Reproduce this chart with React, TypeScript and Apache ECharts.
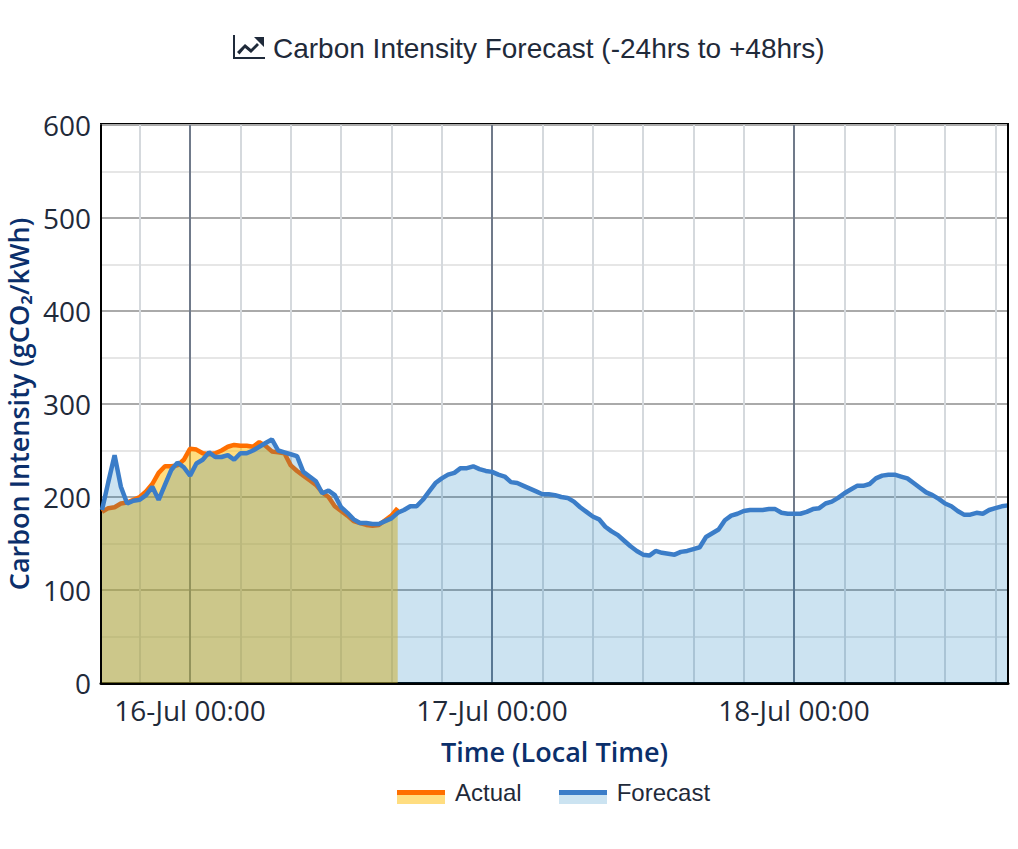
import React, { useEffect, useRef } from "react";
import * as echarts from "echarts";

const START_HOUR = -7;
const STEP_HOURS = 0.5;

const actualValues = [
  184, 188, 189, 193, 194, 197, 200, 206, 214, 226, 233, 233, 234, 240, 252, 251,
  247, 246, 247, 250, 254, 256, 255, 255, 254, 259, 255, 249, 248, 247, 234, 228,
  223, 218, 213, 205, 200, 190, 185, 180, 174, 172, 170, 169, 170, 175, 180, 188,
];

const forecastValues = [
  186, 216, 245, 211, 193, 196, 197, 202, 211, 197, 213, 229, 237, 232, 223, 236,
  240, 248, 243, 243, 245, 240, 247, 247, 250, 254, 258, 262, 250, 248, 246, 244,
  227, 222, 217, 204, 207, 202, 189, 183, 176, 172, 172, 171, 171, 174, 177, 183,
  186, 190, 190, 197, 206, 215, 220, 224, 226, 231, 231, 233, 230, 228, 227, 224,
  222, 216, 215, 212, 209, 206, 203, 203, 202, 200, 199, 195, 189, 184, 179, 176,
  168, 163, 159, 153, 147, 142, 138, 137, 142, 140, 139, 138, 141, 142, 144, 146,
  157, 161, 165, 175, 180, 182, 185, 186, 186, 186, 187, 187, 183, 182, 182, 182,
  184, 187, 188, 193, 195, 199, 204, 208, 212, 212, 214, 220, 223, 224, 224, 222,
  220, 215, 210, 205, 202, 198, 193, 190, 185, 181, 181, 183, 182, 186, 188, 190, 191,
];

const yTicks = { min: 0, max: 600, interval: 100 };
const gridHours = [-4, 0, 4, 8, 12, 16, 20, 24, 28, 32, 36, 40, 44, 48, 52, 56, 60, 64];
const dayHours = [0, 24, 48];
const dayLabels = ["16-Jul 00:00", "17-Jul 00:00", "18-Jul 00:00"];
const X_MIN = -7.08;
const X_MAX = 65;

const CHART_LINE_ICON =
  "M0 0H2V22H32V24H0ZM4 17L12 9L18 14L24 8L26 10L18 18L12 13L6.5 19.5ZM21 2H31V12Z";

const toPairs = (values: number[]) =>
  values.map((v, i) => [START_HOUR + i * STEP_HOURS, v]);

export default function App() {
  const ref = useRef<HTMLDivElement>(null);

  useEffect(() => {
    if (!ref.current) return;
    echarts.graphic.registerShape(
      "chartLineIcon",
      (echarts.graphic as any).extendPath(CHART_LINE_ICON, {})
    );
    const chart = echarts.init(ref.current, undefined, { renderer: "svg" });
    const labelFor = (v: number) => dayLabels[dayHours.indexOf(v)] ?? "";
    chart.setOption({
      animation: false,
      backgroundColor: "#ffffff",
      title: {
        text: "Carbon Intensity Forecast (-24hrs to +48hrs)",
        left: 268,
        top: 29,
        textStyle: {
          fontFamily: "Liberation Sans",
          fontSize: 28,
          fontWeight: "normal",
          color: "#1f2a3a",
        },
      },
      legend: {
        left: 392,
        top: 775,
        itemWidth: 48,
        itemHeight: 14,
        itemGap: 37,
        icon: "rect",
        selectedMode: false,
        data: [
          { name: "Actual", itemStyle: { color: "rgba(0,0,0,0)" } },
          { name: "Forecast", itemStyle: { color: "rgba(0,0,0,0)" } },
        ],
        textStyle: {
          fontFamily: "Liberation Sans",
          fontSize: 24,
          color: "#1f2a3a",
          padding: [0, 0, 10, 5],
        },
      },
      grid: {
        left: 101,
        right: 10,
        top: 125,
        bottom: 166,
        show: false,
        outerBoundsMode: "none",
      },
      xAxis: [
        {
          type: "value",
          min: X_MIN,
          max: X_MAX,
          name: "Time (Local Time)",
          nameLocation: "middle",
          nameGap: 55,
          nameTextStyle: {
            fontFamily: "Open Sans",
            fontSize: 27,
            fontWeight: 600,
            color: "#0b2f6b",
          },
          axisLine: { show: true, onZero: false, lineStyle: { color: "#000", width: 3 } },
          axisTick: { show: false, customValues: gridHours },
          axisLabel: {
            customValues: dayHours,
            formatter: labelFor,
            fontFamily: "Open Sans",
            fontSize: 28,
            color: "#1f2a3a",
            margin: 13,
            hideOverlap: false,
          },
          splitLine: { show: true, lineStyle: { color: "#d5d9dd", width: 2 } },
        },
        {
          type: "value",
          min: X_MIN,
          max: X_MAX,
          position: "bottom",
          axisLine: { show: false },
          axisTick: { show: false, customValues: dayHours },
          axisLabel: { show: false },
          splitLine: { show: true, lineStyle: { color: "#707a8a", width: 2 } },
        },
      ],
      yAxis: {
        type: "value",
        min: yTicks.min,
        max: yTicks.max,
        interval: yTicks.interval,
        name: "Carbon Intensity (gCO₂/kWh)",
        nameLocation: "middle",
        nameRotate: 90,
        nameGap: 67,
        nameTextStyle: {
          fontFamily: "Open Sans",
          fontSize: 27,
          fontWeight: 600,
          color: "#0b2f6b",
        },
        axisLine: { show: true, onZero: false, lineStyle: { color: "#000", width: 2 } },
        axisTick: { show: false },
        minorTick: { show: false, splitNumber: 2 },
        axisLabel: {
          fontFamily: "Open Sans",
          fontSize: 28,
          color: "#1f2a3a",
          margin: 10,
        },
        splitLine: { show: true, lineStyle: { color: "#aaaaaa", width: 2 } },
        minorSplitLine: { show: true, lineStyle: { color: "#e6e6e6", width: 2 } },
      },
      series: [
        {
          name: "Actual",
          type: "line",
          xAxisIndex: 0,
          data: toPairs(actualValues),
          showSymbol: false,
          smooth: false,
          lineStyle: { color: "#ff6f00", width: 4.5 },
          itemStyle: { color: "#ff6f00" },
          areaStyle: { color: "rgba(255,187,0,0.5)", opacity: 1 },
          z: 3,
        },
        {
          name: "Forecast",
          type: "line",
          xAxisIndex: 0,
          data: toPairs(forecastValues),
          showSymbol: false,
          smooth: false,
          lineStyle: { color: "#3b7dc8", width: 4.5 },
          itemStyle: { color: "#3b7dc8" },
          areaStyle: { color: "rgba(0,115,185,0.2)", opacity: 1 },
          z: 4,
        },
      ],
      graphic: [
        { type: "chartLineIcon", x: 233, y: 35, style: { fill: "#1f2a3a" } },
        { type: "rect", shape: { x: 397, y: 795, width: 48, height: 9 }, style: { fill: "#ffdd80" }, z: 10 },
        { type: "rect", shape: { x: 559, y: 795, width: 48, height: 9 }, style: { fill: "#cbe3f1" }, z: 10 },
        { type: "rect", shape: { x: 397, y: 790, width: 48, height: 5 }, style: { fill: "#ff6f00" }, z: 10 },
        { type: "rect", shape: { x: 559, y: 790, width: 48, height: 5 }, style: { fill: "#3b7dc8" }, z: 10 },
        { type: "line", shape: { x1: 100, y1: 123.5, x2: 1009, y2: 123.5 }, style: { stroke: "#000", lineWidth: 1 }, z: 10 },
        { type: "line", shape: { x1: 1008, y1: 123, x2: 1008, y2: 684 }, style: { stroke: "#000", lineWidth: 2 }, z: 10 },
      ],
    });
    return () => chart.dispose();
  }, []);

  return (
    <div
      ref={ref}
      style={{ position: "absolute", left: 0, top: 0, width: 1018, height: 849 }}
    />
  );
}
